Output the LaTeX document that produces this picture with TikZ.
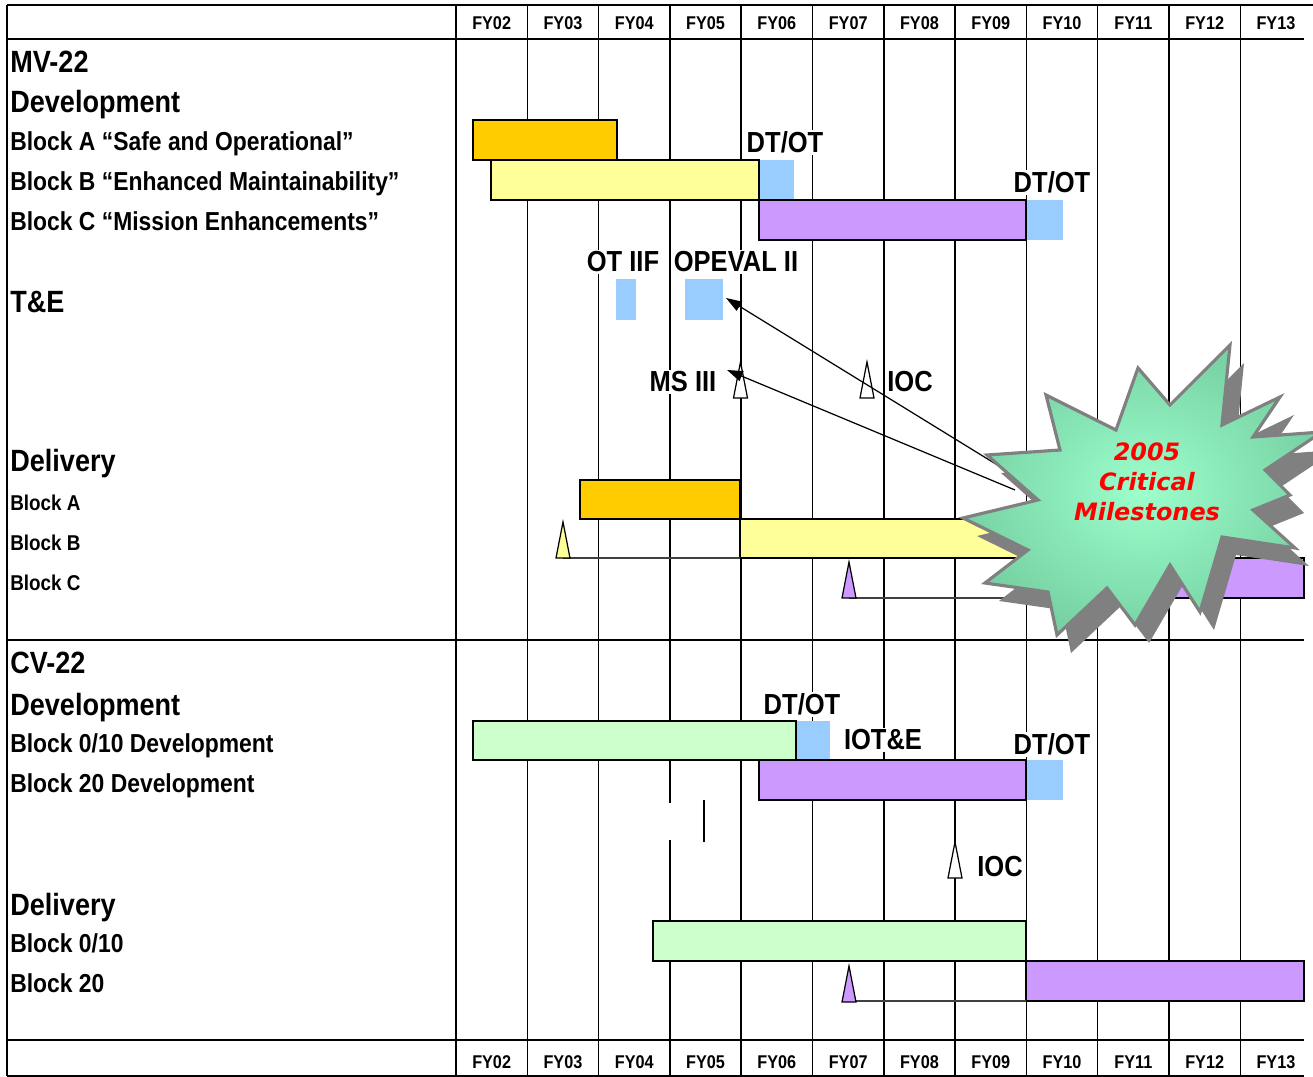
\documentclass[tikz,border=0pt]{standalone}
\usepackage{fontspec}
\newfontfamily\chartfont[FakeStretch=0.88]{Liberation Sans}
\newfontfamily\burstfont{DejaVu Sans}
\usetikzlibrary{arrows.meta}

\definecolor{barorange}{HTML}{FFCC00}
\definecolor{baryellow}{HTML}{FFFF99}
\definecolor{barpurple}{HTML}{CC99FF}
\definecolor{bargreen}{HTML}{CCFFCC}
\definecolor{testblue}{HTML}{99CCFF}
\definecolor{burstlight}{HTML}{9CFFCC}
\definecolor{burstdark}{HTML}{78D2A4}
\definecolor{burstgray}{HTML}{808080}

\begin{document}
\begin{tikzpicture}[
		x=0.02cm, y=-0.02cm,
		frameline/.style={line width=1.5pt, black},
		gridline/.style={line width=0.9pt, black},
		bar/.style={draw=black, line width=0.8pt},
		mstone/.style={draw=black, line width=0.7pt},
		stemline/.style={line width=0.7pt, black!75},
		rowhead/.style={anchor=base west, inner sep=0pt, font=\chartfont\bfseries\fontsize{17.5}{20}\selectfont},
		rowitem/.style={anchor=base west, inner sep=0pt, font=\chartfont\bfseries\fontsize{14.8}{17}\selectfont},
		rowsub/.style={anchor=base west, inner sep=0pt, font=\chartfont\bfseries\fontsize{12.2}{14}\selectfont},
		yearlbl/.style={anchor=base, inner sep=0pt, font=\chartfont\bfseries\fontsize{10.5}{12}\selectfont},
		eventlbl/.style={anchor=base, fill=white, inner sep=1pt, font=\chartfont\bfseries\fontsize{16.5}{20}\selectfont},
		pointer/.style={-{Triangle[length=9pt, width=6pt]}, line width=0.7pt},
		shadowstar/.style={fill=burstgray},
		burst/.style={draw=burstgray, line width=1.8pt, inner color=burstlight, outer color=burstdark},
		bursttext/.style={align=center, text=red, font=\burstfont\bfseries\itshape\fontsize{13.6}{17}\selectfont}
	]
	\useasboundingbox (0,0) rectangle (1313,1077);
	
	% table frame and year grid
	\foreach \k in {1,...,11}
		\draw[gridline] ({456+71.3*\k},5) -- ({456+71.3*\k},1076);
	\draw[gridline] (7,5) -- (7,1076);
	\draw[gridline] (456,5) -- (456,1076);
	\draw[frameline] (7,5) -- (1313,5);
	\draw[gridline] (7,39) -- (1304,39);
	\draw[frameline] (7,640) -- (1304,640);
	\draw[frameline] (7,1040) -- (1304,1040);
	\draw[gridline] (7,1076) -- (1304,1076);
	
	\foreach \yr [count=\k] in {02,03,04,05,06,07,08,09,10,11,12,13} {
		\node[yearlbl] (fytop\k) at ({456+71.3*(\k-0.5)},30) {FY\yr};
		\node[yearlbl] (fybot\k) at ({456+71.3*(\k-0.5)},1068) {FY\yr};
	}
	
	% test periods
	\foreach \xa/\ya/\xb/\yb in {759/160/794/200, 1026/200/1063/240, 616/279/636/320,
			685/279/723/320, 796/721/830/760, 1026/760/1063/800}
		\fill[testblue] (\xa,\ya) rectangle (\xb,\yb);
	
	% schedule bars
	\foreach \xa/\ya/\xb/\yb/\c in {473/120/617/160/barorange, 491/160/759/200/baryellow,
			759/200/1026/240/barpurple, 580/480/740/519/barorange, 740/519/1026/558/baryellow,
			1026/558/1304/598/barpurple, 473/721/796/760/bargreen, 759/760/1026/800/barpurple,
			653/921/1026/961/bargreen, 1026/961/1304/1001/barpurple}
		\filldraw[bar, fill=\c] (\xa,\ya) rectangle (\xb,\yb);
	
	\draw[stemline] (563,558) -- (740,558);
	\draw[stemline] (849,598) -- (1026,598);
	\draw[stemline] (849,1001) -- (1026,1001);
	\fill[white] (662,803) rectangle (677,840);
	\draw[gridline] (704,800) -- (704,842);
	
	% milestones
	\foreach \x/\y/\c in {740.5/380/white, 867/380/white, 955/860/white,
			563/540/baryellow, 849/580/barpurple, 849/984/barpurple}
		\draw[mstone, fill=\c] ({\x-7},{\y+18}) -- (\x,{\y-18}) -- ({\x+7},{\y+18}) -- cycle;
	
	% row labels
	\node[rowhead] (mvhead) at (10,73) {MV-22};
	\node[rowhead] (mvdev) at (10,113) {Development};
	\node[rowitem] (mvblka) at (10,151) {Block A “Safe and Operational”};
	\node[rowitem] (mvblkb) at (10,191) {Block B “Enhanced Maintainability”};
	\node[rowitem] (mvblkc) at (10,231) {Block C “Mission Enhancements”};
	\node[rowhead] (mvte) at (10,313) {T\&E};
	\node[rowhead] (mvdel) at (10,472) {Delivery};
	\node[rowsub] (mvdela) at (10,511) {Block A};
	\node[rowsub] (mvdelb) at (10,551) {Block B};
	\node[rowsub] (mvdelc) at (10,591) {Block C};
	
	\node[rowhead] (cvhead) at (10,674) {CV-22};
	\node[rowhead] (cvdev) at (10,716) {Development};
	\node[rowitem] (cvblk10) at (10,753) {Block 0/10 Development};
	\node[rowitem] (cvblk20) at (10,793) {Block 20 Development};
	\node[rowhead] (cvdel) at (10,916) {Delivery};
	\node[rowitem] (cvdel10) at (10,952) {Block 0/10};
	\node[rowitem] (cvdel20) at (10,992) {Block 20};
	
	% event labels
	\node[eventlbl] (dtota) at (785,153) {DT/OT};
	\node[eventlbl] (dtotb) at (1052,193) {DT/OT};
	\node[eventlbl] (otiif) at (623,272) {OT IIF};
	\node[eventlbl] (opevallbl) at (736,272) {OPEVAL II};
	\node[eventlbl] (mslbl) at (683,392) {MS III};
	\node[eventlbl] (mvioc) at (910,392) {IOC};
	\node[eventlbl] (dtotc) at (802,715) {DT/OT};
	\node[eventlbl] (iote) at (883,750) {IOT\&E};
	\node[eventlbl] (dtotd) at (1052,755) {DT/OT};
	\node[eventlbl] (cvioc) at (1000,877) {IOC};
	
	% callouts
	\coordinate (opeval) at (726,298);
	\coordinate (msiii) at (727,370);
	\coordinate (foota) at (1038,490);
	\coordinate (footb) at (1015,490);
	\draw[pointer] (foota) -- (opeval);
	\draw[pointer] (footb) -- (msiii);
	
	\foreach \dx/\dy/\sty in {14/18/shadowstar, 0/0/burst}
		\path[\sty, shift={(\dx,\dy)}] (1046,395) -- (1116,430) -- (1138,368) -- (1170,405)
			-- (1230,345) -- (1222,425) -- (1280,397) -- (1253,437) -- (1322,432) -- (1265,470)
			-- (1290,495) -- (1253,510) -- (1295,548) -- (1222,537) -- (1200,612) -- (1170,565)
			-- (1135,625) -- (1107,588) -- (1057,635) -- (1048,592) -- (985,583) -- (1028,550)
			-- (963,518) -- (1038,500) -- (987,455) -- (1060,450) -- cycle;
	\node[bursttext] (bursttxt) at (1147,482) {2005\\Critical\\Milestones};
	
\end{tikzpicture}
\end{document}
